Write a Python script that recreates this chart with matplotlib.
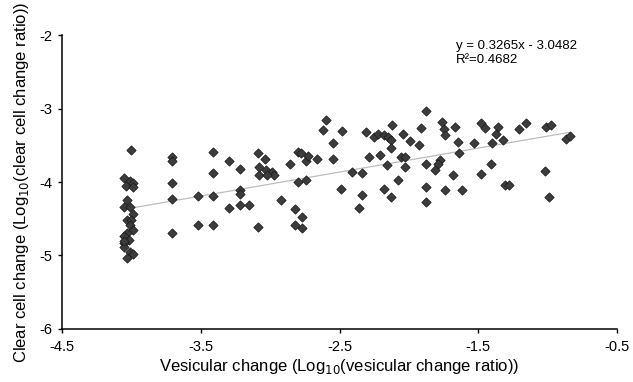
import matplotlib
matplotlib.use("Agg")
import matplotlib.pyplot as plt
import numpy as np

plt.rcParams['font.family'] = ['Liberation Sans', 'DejaVu Sans']

# vesicular change (log10) and clear cell change (log10)
ves = [
    -4.00, -4.05, -4.01, -3.99, -4.04, -3.99,
    -4.03, -4.05, -4.01, -3.99, -4.03, -4.00, -4.01, -3.99, -4.03, -4.05,
    -4.02, -4.05, -4.05, -4.01, -4.05, -3.99, -4.03,
    -3.71, -3.71, -3.71, -3.71, -3.71,
    -3.52, -3.52,
    -3.41, -3.41, -3.41, -3.41,
    -3.30, -3.22, -3.22, -3.22, -3.30, -3.22, -3.15,
    -3.09, -3.04, -3.08, -3.03, -2.99, -2.97, -3.08, -3.02, -3.09,
    -2.86, -2.80, -2.78, -2.74, -2.80, -2.74, -2.92, -2.82, -2.77, -2.82, -2.77,
    -2.60, -2.62, -2.48, -2.55, -2.73, -2.66, -2.55, -2.41, -2.34, -2.49, -2.34, -2.36,
    -2.31, -2.25, -2.22, -2.18, -2.15, -2.13, -2.12, -2.13, -2.29, -2.21, -2.16,
    -2.18, -2.13, -2.08,
    -1.88, -1.91, -2.04, -1.99, -1.93, -2.06, -2.03, -2.03, -1.88, -1.78, -1.79,
    -1.81, -1.76, -1.75, -1.74, -1.67, -1.65, -1.64, -1.53, -1.68, -1.48, -1.88,
    -1.74, -1.62, -1.88, -1.48, -1.45, -1.40, -1.41,
    -1.36, -1.37, -1.32, -1.21, -1.16, -1.01, -0.98, -0.87, -0.84,
    -1.31, -1.28, -1.02, -0.99,
]
clear = [
    -3.57, -3.95, -3.98, -4.02, -4.06, -4.07,
    -4.25, -4.34, -4.34, -4.43, -4.52, -4.52, -4.59, -4.65, -4.70, -4.74,
    -4.79, -4.83, -4.88, -4.95, -4.80, -4.98, -5.04,
    -3.66, -3.72, -4.01, -4.23, -4.69,
    -4.19, -4.58,
    -3.59, -3.88, -4.19, -4.58,
    -3.72, -3.82, -4.11, -4.16, -4.35, -4.31, -4.31,
    -3.61, -3.69, -3.80, -3.83, -3.86, -3.90, -3.90, -3.90, -4.61,
    -3.76, -3.59, -3.61, -3.72, -4.00, -3.97, -4.25, -4.37, -4.48, -4.59, -4.63,
    -3.15, -3.29, -3.31, -3.47, -3.64, -3.69, -3.69, -3.86, -3.88, -4.10, -4.18, -4.35,
    -3.32, -3.39, -3.34, -3.36, -3.39, -3.43, -3.22, -3.54, -3.66, -3.63, -3.77,
    -4.09, -4.20, -3.97,
    -3.03, -3.27, -3.35, -3.44, -3.50, -3.66, -3.66, -3.79, -3.76, -3.70, -3.75,
    -3.84, -3.18, -3.28, -3.36, -3.25, -3.45, -3.61, -3.47, -3.91, -3.89, -4.07,
    -4.11, -4.11, -4.27, -3.20, -3.27, -3.47, -3.75,
    -3.25, -3.34, -3.43, -3.28, -3.19, -3.25, -3.22, -3.41, -3.37,
    -4.04, -4.04, -3.85, -4.20,
]

slope = 0.3265
intercept = -3.0482
r2 = 0.4682
fit_x = [-4.0, -0.85]

fig = plt.figure(figsize=(6.33, 3.82), dpi=100)
ax = fig.add_axes([0.098, 0.139, 0.877, 0.769])

fx = np.array(fit_x)
ax.plot(fx, slope * fx + intercept, color='#bdbdbd', lw=0.9, zorder=1)
ax.scatter(ves, clear, marker='D', s=22, color='#3c3c3c',
           edgecolors='#1e1e1e', linewidths=0.6, zorder=2)

ax.set_xlim(-4.5, -0.5)
ax.set_ylim(-6, -2)
ax.set_xticks([-4.5, -3.5, -2.5, -1.5, -0.5])
ax.set_xticklabels(['-4.5', '-3.5', '-2.5', '-1.5', '-0.5'])
ax.set_yticks([-6, -5, -4, -3, -2])
ax.set_yticklabels(['-6', '-5', '-4', '-3', '-2'])
ax.tick_params(direction='out', length=3, width=1, labelsize=10.5)
ax.tick_params(axis='x', pad=5)
ax.tick_params(axis='y', pad=4)
for s in ['top', 'right']:
    ax.spines[s].set_visible(False)
for s in ['left', 'bottom']:
    ax.spines[s].set_linewidth(1.1)

ax.set_xlabel('Vesicular change (Log$_{10}$(vesicular change ratio))', fontsize=12, labelpad=2)
ax.set_ylabel('Clear cell change (Log$_{10}$(clear cell change ratio))', fontsize=12, labelpad=6)

ax.text(0.71, 0.985, 'y = %.4fx - %.4f' % (slope, -intercept), transform=ax.transAxes,
        fontsize=9.5, va='top', ha='left')
ax.text(0.71, 0.935, 'R\u00b2=%.4f' % r2, transform=ax.transAxes,
        fontsize=9.5, va='top', ha='left')

fig.savefig('out.png', dpi=100)
